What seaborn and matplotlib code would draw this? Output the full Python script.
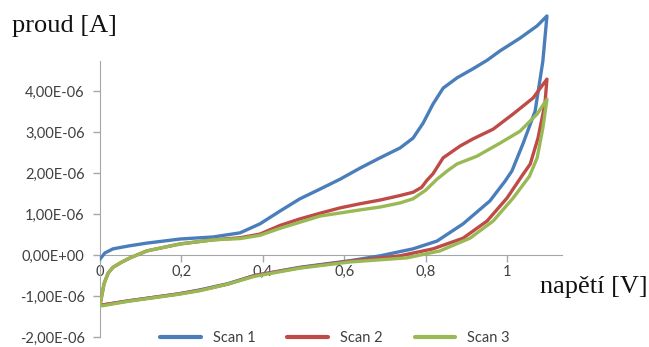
import pandas as pd
import seaborn as sns
import matplotlib.pyplot as plt
from matplotlib.ticker import FuncFormatter

# Scan 1 - forward then backward sweep (V, current in uA)
scan1_v = [0.0, 0.012, 0.032, 0.07, 0.115, 0.197, 0.278, 0.344, 0.393, 0.442,
           0.491, 0.541, 0.590, 0.639, 0.688, 0.737, 0.769, 0.794, 0.818, 0.843,
           0.877, 0.916, 0.951, 0.983, 1.032, 1.074, 1.098,
           1.088, 1.069, 1.039, 1.012, 0.995, 0.958, 0.892, 0.828, 0.769, 0.688,
           0.614, 0.491, 0.38, 0.314, 0.246, 0.192, 0.069, 0.005]
scan1_i = [-0.1, 0.05, 0.15, 0.22, 0.29, 0.39, 0.44, 0.54, 0.76, 1.07,
           1.37, 1.61, 1.85, 2.12, 2.37, 2.61, 2.85, 3.22, 3.68, 4.07,
           4.32, 4.54, 4.75, 4.98, 5.29, 5.59, 5.83,
           4.73, 3.51, 2.71, 2.05, 1.80, 1.32, 0.76, 0.34, 0.15, -0.02,
           -0.14, -0.30, -0.50, -0.70, -0.85, -0.95, -1.12, -1.22]

# Scan 2
scan2_v = [0.0, 0.01, 0.02, 0.032, 0.054, 0.074, 0.115, 0.197, 0.278, 0.344,
           0.393, 0.442, 0.491, 0.541, 0.590, 0.639, 0.688, 0.737, 0.769, 0.79,
           0.803, 0.818, 0.843, 0.885, 0.916, 0.966, 1.015, 1.064, 1.098,
           1.093, 1.076, 1.057, 1.038, 1.0, 0.951, 0.892, 0.818, 0.737, 0.614,
           0.491, 0.38, 0.314, 0.246, 0.192, 0.069, 0.005]
scan2_i = [-1.22, -0.7, -0.44, -0.3, -0.17, -0.07, 0.1, 0.27, 0.37, 0.42,
           0.51, 0.72, 0.88, 1.02, 1.15, 1.25, 1.34, 1.45, 1.53, 1.65,
           1.82, 1.98, 2.37, 2.66, 2.83, 3.07, 3.44, 3.83, 4.29,
           3.68, 2.85, 2.22, 1.95, 1.39, 0.83, 0.41, 0.15, -0.02, -0.15,
           -0.31, -0.50, -0.71, -0.86, -0.95, -1.12, -1.22]

# Scan 3
scan3_v = [0.0, 0.01, 0.02, 0.032, 0.054, 0.074, 0.115, 0.197, 0.278, 0.344,
           0.393, 0.442, 0.541, 0.639, 0.688, 0.737, 0.769, 0.80, 0.828, 0.853,
           0.877, 0.926, 0.983, 1.032, 1.074, 1.098,
           1.088, 1.074, 1.055, 1.015, 0.966, 0.909, 0.835, 0.754, 0.614, 0.491,
           0.38, 0.314, 0.246, 0.192, 0.069, 0.005]
scan3_i = [-1.22, -0.7, -0.44, -0.3, -0.17, -0.07, 0.1, 0.27, 0.37, 0.40,
           0.48, 0.65, 0.95, 1.10, 1.17, 1.27, 1.37, 1.58, 1.85, 2.05,
           2.22, 2.41, 2.73, 3.02, 3.44, 3.80,
           3.10, 2.37, 1.92, 1.39, 0.83, 0.41, 0.10, -0.07, -0.17, -0.32,
           -0.52, -0.71, -0.87, -0.96, -1.13, -1.24]

scan_names = ["Scan 1", "Scan 2", "Scan 3"]
colors = ["#4a7ebb", "#be4b48", "#98b954"]

frames = []
for name, v, i in zip(scan_names, [scan1_v, scan2_v, scan3_v], [scan1_i, scan2_i, scan3_i]):
    frames.append(pd.DataFrame({"V": v, "I": [x * 1e-6 for x in i], "scan": name}))
df = pd.concat(frames, ignore_index=True)

sns.set_style("white")
plt.rcParams['font.family'] = ['Lato', 'DejaVu Sans']

fig = plt.figure(figsize=(6.49, 3.47), dpi=100)
ax = fig.add_axes([100 / 649, 10 / 347, 462 / 649, 328 / 347])

sns.lineplot(data=df, x="V", y="I", hue="scan", sort=False, estimator=None,
             palette=colors, linewidth=2.4, ax=ax, zorder=3, legend=False)

ax.set_xlim(0, 1.135)
ax.set_ylim(-2e-6, 6e-6)

grey = "#a6a6a6"
for s in ["top", "right"]:
    ax.spines[s].set_visible(False)
ax.spines["left"].set_position(("data", 0))
ax.spines["bottom"].set_position(("data", 0))
ax.spines["left"].set_bounds(-2e-6, 4.73e-6)
ax.spines["left"].set_color(grey)
ax.spines["bottom"].set_color(grey)

ax.set_xticks([0, 0.2, 0.4, 0.6, 0.8, 1.0])
ax.set_yticks([-2e-6, -1e-6, 0, 1e-6, 2e-6, 3e-6, 4e-6])
ax.xaxis.set_major_formatter(FuncFormatter(lambda v, p: f"{v:g}".replace(".", ",")))
ax.yaxis.set_major_formatter(FuncFormatter(lambda v, p: f"{v:.2E}".replace(".", ",")))
ax.tick_params(axis="both", direction="out", length=5, width=1, color=grey,
               labelsize=10.5, labelcolor="#404040", bottom=True, left=True)
ax.tick_params(axis="y", pad=6)
ax.tick_params(axis="x", pad=2)
ax.set_xlabel("")
ax.set_ylabel("")

fig.text(12 / 649, 1 - 32 / 347, "proud [A]", family="Liberation Serif", fontsize=19,
         color="#111111")
fig.text(540 / 649, 1 - 293 / 347, "napětí [V]", family="Liberation Serif", fontsize=19,
         color="#111111")

handles = [plt.Line2D([], [], color=c, linewidth=3) for c in colors]
fig.legend(handles, scan_names, loc="center", bbox_to_anchor=(335 / 649, 9 / 347),
           ncol=3, frameon=False, fontsize=10.5, handlelength=2.8,
           columnspacing=2.2, handletextpad=0.8, labelcolor="#404040")

fig.savefig("out.png", dpi=100)
